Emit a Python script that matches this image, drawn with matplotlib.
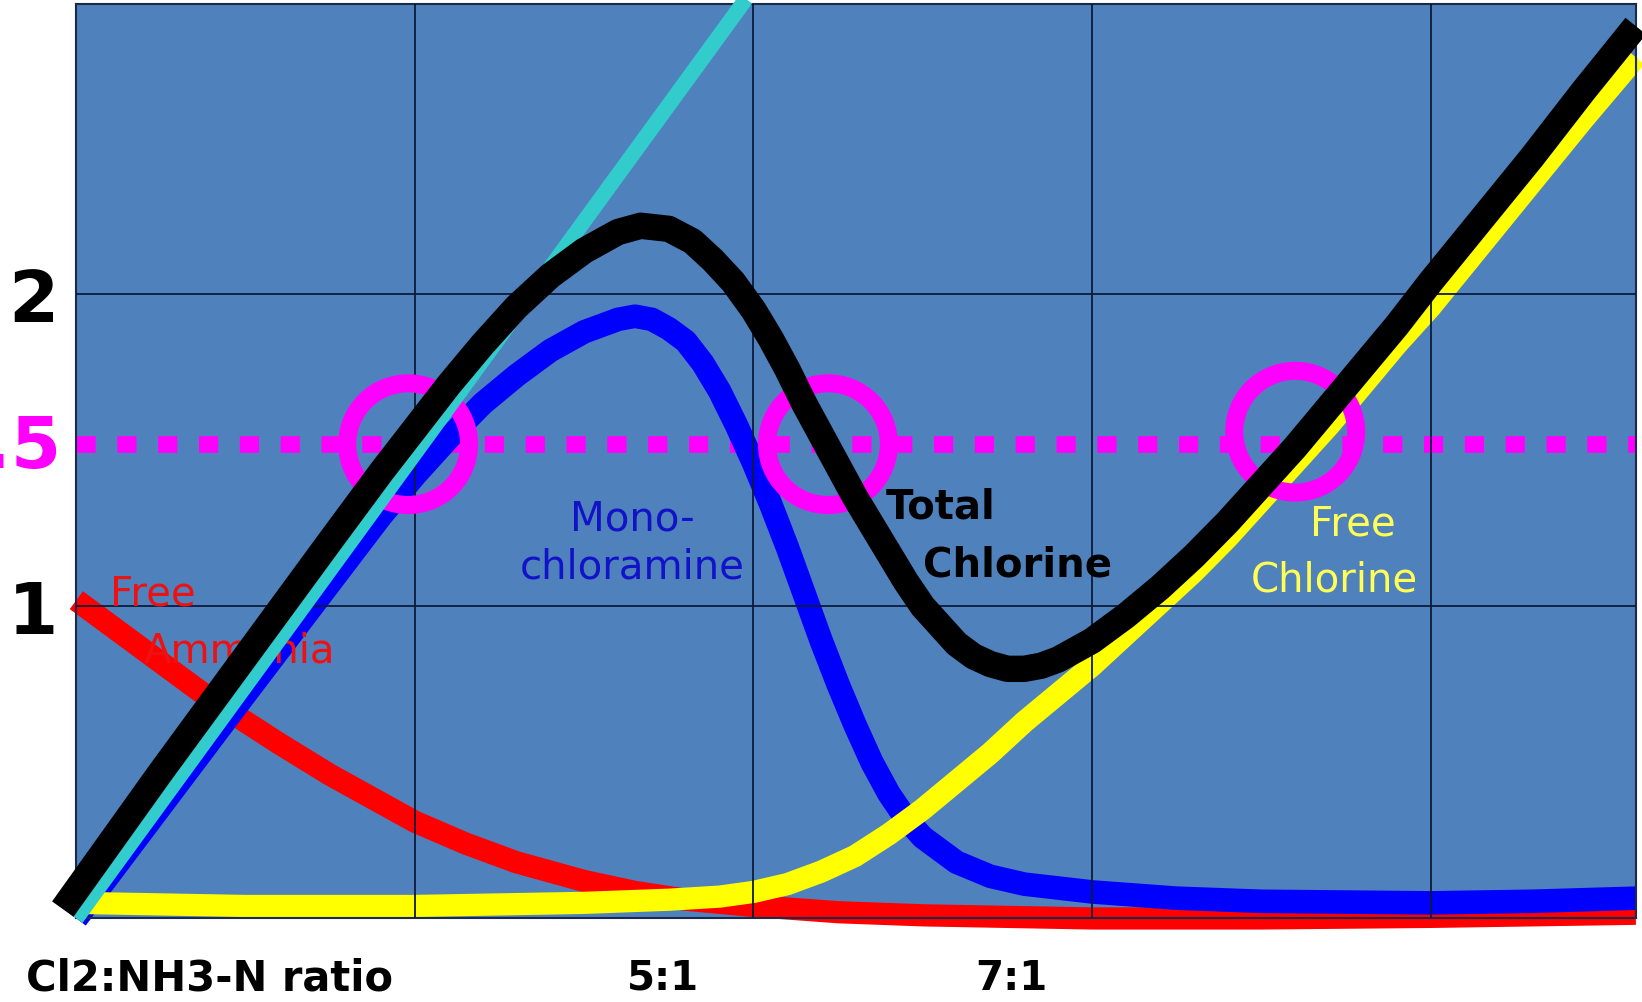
import matplotlib
matplotlib.use("Agg")
import matplotlib.pyplot as plt
from matplotlib.patches import Ellipse
from matplotlib.transforms import blended_transform_factory

# values; x in grid units, y in mg/L
total_x = [-0.04, 0.25, 0.5, 0.75, 0.9, 1.0, 1.1, 1.2, 1.3, 1.4, 1.5, 1.6, 1.667,
           1.75, 1.82, 1.88, 1.94, 2.0, 2.05, 2.1, 2.15, 2.2, 2.25, 2.3, 2.35, 2.4,
           2.45, 2.5, 2.55, 2.6, 2.65, 2.7, 2.75, 2.8, 2.85, 2.9, 2.95, 3.0, 3.1,
           3.2, 3.3, 3.4, 3.5, 3.6, 3.7, 3.8, 3.9, 4.0, 4.15, 4.3, 4.45, 4.606]
total_y = [0.03, 0.47, 0.84, 1.21, 1.43, 1.57, 1.71, 1.84, 1.96, 2.06, 2.14, 2.20,
           2.22, 2.21, 2.17, 2.11, 2.04, 1.95, 1.86, 1.76, 1.65, 1.55, 1.45, 1.35,
           1.26, 1.17, 1.08, 1.00, 0.94, 0.88, 0.84, 0.815, 0.80, 0.80, 0.81, 0.83,
           0.86, 0.89, 0.97, 1.06, 1.16, 1.27, 1.39, 1.51, 1.64, 1.77, 1.90, 2.04,
           2.24, 2.44, 2.65, 2.86]

mono_x = [0, 0.5, 0.9, 1.0, 1.1, 1.2, 1.3, 1.4, 1.5, 1.6, 1.65, 1.7, 1.75, 1.8,
          1.85, 1.9, 1.95, 2.0, 2.05, 2.1, 2.15, 2.2, 2.25, 2.3, 2.35, 2.4, 2.45,
          2.5, 2.6, 2.7, 2.8, 3.0, 3.25, 3.5, 4.0, 4.3, 4.606]
mono_y = [0, 0.72, 1.29, 1.42, 1.54, 1.65, 1.74, 1.82, 1.88, 1.92, 1.93, 1.92,
          1.89, 1.85, 1.78, 1.69, 1.58, 1.46, 1.33, 1.19, 1.04, 0.89, 0.75, 0.62,
          0.50, 0.40, 0.32, 0.26, 0.18, 0.135, 0.11, 0.085, 0.065, 0.055, 0.05,
          0.055, 0.065]

free_x = [0, 0.5, 1.0, 1.5, 1.75, 1.9, 2.0, 2.1, 2.2, 2.3, 2.4, 2.5, 2.6, 2.7,
          2.8, 2.9, 3.0, 3.1, 3.2, 3.3, 3.4, 3.5, 3.6, 3.7, 3.8, 3.9, 4.0, 4.15,
          4.3, 4.45, 4.606]
free_y = [0.05, 0.04, 0.04, 0.05, 0.06, 0.07, 0.085, 0.11, 0.15, 0.2, 0.27, 0.35,
          0.44, 0.53, 0.63, 0.72, 0.81, 0.91, 1.01, 1.11, 1.22, 1.34, 1.46, 1.58,
          1.71, 1.84, 1.96, 2.16, 2.36, 2.56, 2.76]

ammonia_x = [0, 0.1, 0.25, 0.4, 0.5, 0.6, 0.75, 0.9, 1.0, 1.15, 1.3, 1.5, 1.65,
             1.8, 2.0, 2.25, 2.5, 3.0, 3.5, 4.0, 4.606]
ammonia_y = [1.02, 0.94, 0.82, 0.70, 0.63, 0.56, 0.46, 0.37, 0.31, 0.24, 0.18,
             0.12, 0.085, 0.06, 0.04, 0.02, 0.01, 0.0, 0.0, 0.005, 0.015]

applied_x = [0, 2.0]
applied_y = [0, 2.98]

target_level = 1.52
circle_x = [0.98, 2.22, 3.60]
circle_y = [1.52, 1.52, 1.56]

ratio_pos = [1.733, 2.763]
ratio_labels = ["5:1", "7:1"]

XMAX, YMAX = 4.606, 2.93

fig = plt.figure(figsize=(16.42, 10.03), dpi=100)
ax = fig.add_axes([0.0465, 0.0833, 0.9497, 0.9115])
ax.set_facecolor("#4F81BD")
ax.set_xlim(0, XMAX)
ax.set_ylim(0, YMAX)

ax.set_xticks([1, 2, 3, 4])
ax.set_xticklabels([])
ax.set_yticks([1, 2])
ax.set_yticklabels(["1", "2"], fontsize=52, fontweight="bold")
ax.tick_params(length=0, pad=13)
ax.set_axisbelow(False)
ax.grid(True, color="#0d1a3a", linewidth=1.3)
for s in ax.spines.values():
    s.set_color("#1c2a4a")
    s.set_linewidth(1.5)

kw = dict(solid_capstyle="butt", solid_joinstyle="round", clip_on=False)
ax.plot([0, XMAX], [target_level, target_level], color="#FF00FF", lw=12,
        linestyle=(0, (1.15, 1.3)), dash_capstyle="butt", zorder=1.5)
ax.plot(ammonia_x, ammonia_y, color="#FF0000", lw=16, zorder=1.6, **kw)
ax.plot(mono_x, mono_y, color="#0000FF", lw=17, zorder=1.7, **kw)
ax.plot(free_x, free_y, color="#FFFF00", lw=16, zorder=1.8, **kw)

for cx, cy in zip(circle_x, circle_y):
    ax.add_patch(Ellipse((cx, cy), 0.36, 0.39, fill=False, edgecolor="#FF00FF",
                         lw=13, zorder=3))

ax.text(0.1, 1.04, "Free", color="#EE1111", fontsize=29, va="center", ha="left",
        zorder=3.2)
ax.text(0.2, 0.86, "Ammonia", color="#EE1111", fontsize=29, va="center", ha="left",
        zorder=3.2)

ax.plot(applied_x, applied_y, color="#33CCCC", lw=11, zorder=4, **kw)
ax.plot(total_x, total_y, color="#000000", lw=19, zorder=5, **kw)

ax.text(1.643, 1.205, "Mono-\nchloramine", color="#1212C8", fontsize=29,
        ha="center", va="center", linespacing=1.25, zorder=6)
ax.text(2.39, 1.32, "Total", color="black", fontsize=29, fontweight="bold",
        ha="left", va="center", zorder=3.2)
ax.text(2.5, 1.135, "Chlorine", color="black", fontsize=29, fontweight="bold",
        ha="left", va="center", zorder=3.2)
ax.text(3.77, 1.265, "Free", color="#FFFF55", fontsize=29,
        ha="center", va="center", zorder=6)
ax.text(3.715, 1.085, "Chlorine", color="#FFFF55", fontsize=29,
        ha="center", va="center", zorder=6)

# partly cut "1.5" at left edge
fig.text(0.0375, 0.553, "1.5", color="#FF00FF", fontsize=52, fontweight="bold",
         ha="right", va="center")

tr = blended_transform_factory(ax.transData, fig.transFigure)
for p, lab in zip(ratio_pos, ratio_labels):
    ax.text(p, 0.024, lab, transform=tr, fontsize=29, fontweight="bold",
            ha="center", va="center")
fig.text(0.1275, 0.024, "Cl2:NH3-N ratio", fontsize=30, fontweight="bold",
         ha="center", va="center")

fig.savefig("out.png", dpi=100)
